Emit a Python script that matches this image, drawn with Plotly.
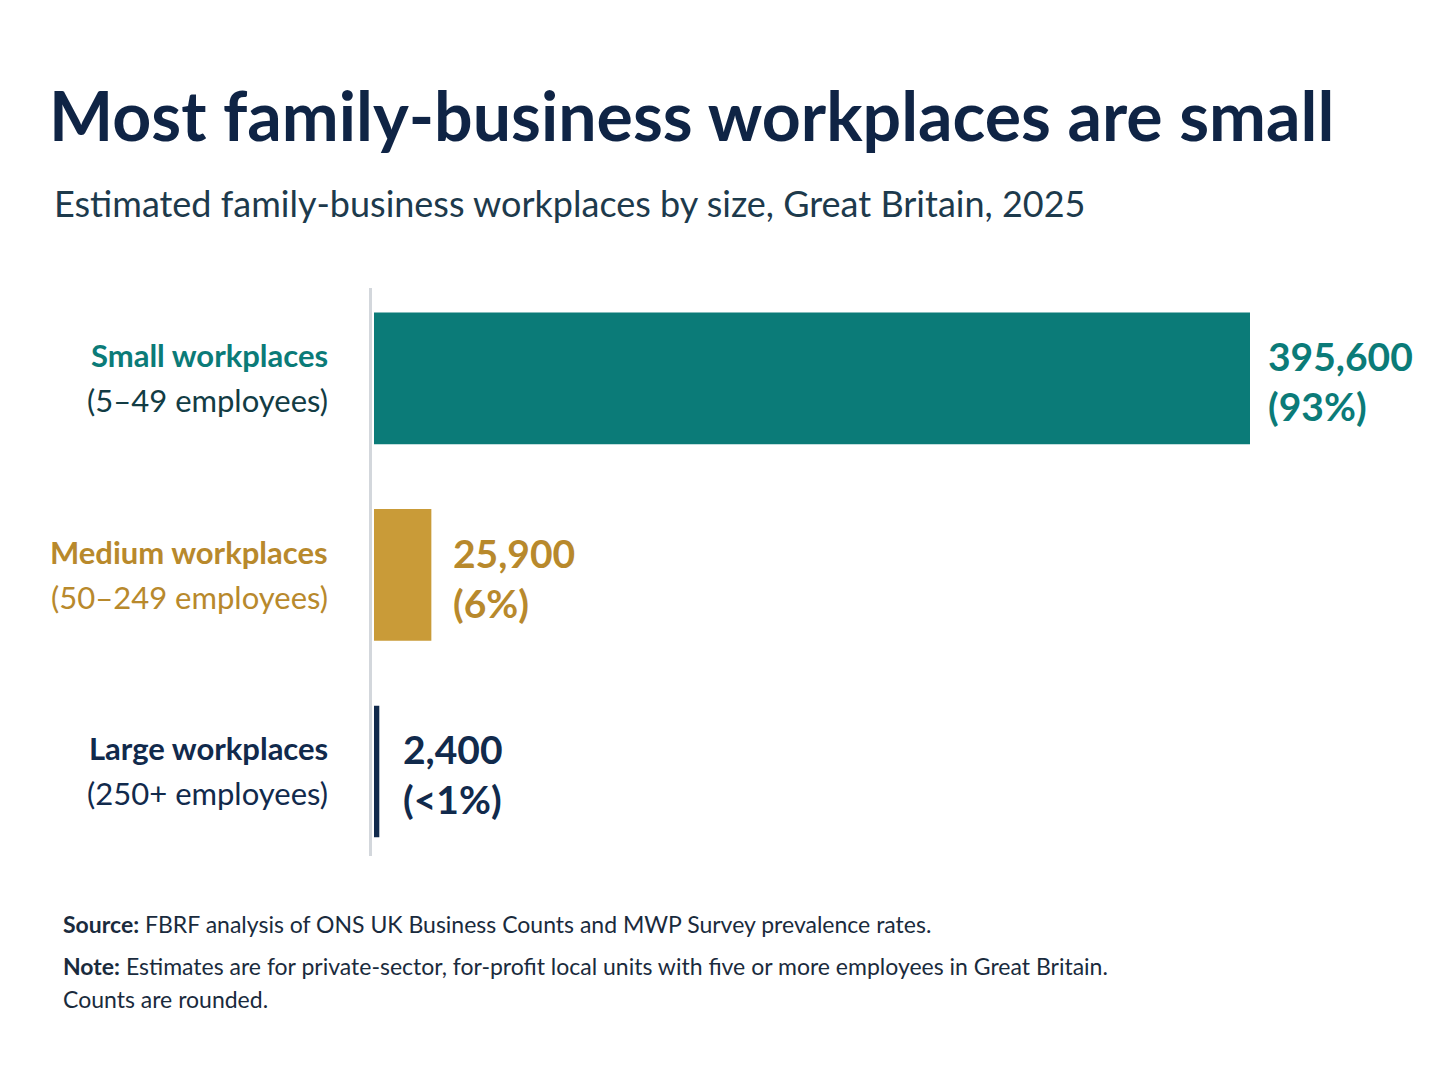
import plotly.graph_objects as go

# data
categories = ["Small workplaces", "Medium workplaces", "Large workplaces"]
size_bands = ["(5–49 employees)", "(50–249 employees)", "(250+ employees)"]
counts = [395600, 25900, 2400]
shares = ["(93%)", "(6%)", "(<1%)"]

bar_colors = ["#0b7b78", "#c99b38", "#112a4c"]
label_colors = ["#0b7b78", "#b8892c", "#112a4c"]
band_colors = ["#123c44", "#b8892c", "#112a4c"]

W, H = 1448, 1086
OFF = 8  # page body margin
L, R, T, B = 372 - OFF, 8, 288 - OFF, 230 + OFF
FONT = "Lato"

fig = go.Figure()

fig.add_trace(go.Bar(
    y=categories,
    x=counts,
    orientation="h",
    marker=dict(color=bar_colors, line=dict(width=0)),
    width=0.67,
    hoverinfo="skip",
))

plot_w = W - L - R
plot_h = H - T - B


def px_x(x):
    return (x - OFF - L) / plot_w


def px_y(y):
    return (H - B - (y - OFF)) / plot_h


annotations = []

# category labels on the left
for i, (cat, band) in enumerate(zip(categories, size_bands)):
    annotations.append(dict(
        x=0, xref="x domain", y=cat, yref="y", xanchor="right", yanchor="middle",
        xshift=-42, yshift=23, text=f"<b>{cat}</b>", showarrow=False,
        font=dict(family=FONT, size=31, color=label_colors[i]),
    ))
    annotations.append(dict(
        x=0, xref="x domain", y=cat, yref="y", xanchor="right", yanchor="middle",
        xshift=-42, yshift=-22, text=band, showarrow=False,
        font=dict(family=FONT, size=31, color=band_colors[i]),
    ))

# value labels right of the bars
for i, (cat, v, s) in enumerate(zip(categories, counts, shares)):
    shift = [16, 20, 22][i]
    annotations.append(dict(
        x=v, xref="x", y=cat, yref="y", xanchor="left", yanchor="middle",
        xshift=shift, yshift=22, text=f"<b>{v:,}</b>", showarrow=False,
        font=dict(family=FONT, size=39, color=label_colors[i]),
    ))
    annotations.append(dict(
        x=v, xref="x", y=cat, yref="y", xanchor="left", yanchor="middle",
        xshift=shift, yshift=-28, text=f"<b>{s}</b>", showarrow=False,
        font=dict(family=FONT, size=39, color=label_colors[i]),
    ))

# title, subtitle, footnotes
annotations += [
    dict(x=px_x(47), y=px_y(114), xref="paper", yref="paper", xanchor="left", yanchor="middle",
         text="<b>Most family-business workplaces are small</b>", showarrow=False,
         font=dict(family=FONT, size=68, color="#0f2445")),
    dict(x=px_x(52), y=px_y(203), xref="paper", yref="paper", xanchor="left", yanchor="middle",
         text="Estimated family-business workplaces by size, Great Britain, 2025", showarrow=False,
         font=dict(family=FONT, size=36, color="#1d3a4c")),
    dict(x=px_x(61), y=px_y(924), xref="paper", yref="paper", xanchor="left", yanchor="middle",
         text="<b>Source:</b> FBRF analysis of ONS UK Business Counts and MWP Survey prevalence rates.",
         showarrow=False, font=dict(family=FONT, size=23, color="#1a2b3d")),
    dict(x=px_x(61), y=px_y(966), xref="paper", yref="paper", xanchor="left", yanchor="middle",
         text="<b>Note:</b> Estimates are for private-sector, for-profit local units with five or more employees in Great Britain.",
         showarrow=False, font=dict(family=FONT, size=23, color="#1a2b3d")),
    dict(x=px_x(61), y=px_y(999), xref="paper", yref="paper", xanchor="left", yanchor="middle",
         text="Counts are rounded.",
         showarrow=False, font=dict(family=FONT, size=23, color="#1a2b3d")),
]

px_per_unit = 876 / 395600
fig.update_layout(
    width=W, height=H,
    margin=dict(l=L, r=R, t=T, b=B),
    paper_bgcolor="white", plot_bgcolor="white",
    showlegend=False,
    annotations=annotations,
    xaxis=dict(range=[-2 / px_per_unit, (plot_w - 2) / px_per_unit],
               showgrid=False, zeroline=False, showticklabels=False, showline=False),
    yaxis=dict(range=[2.43, -0.46], showgrid=False, zeroline=False, showticklabels=False,
               showline=True, linecolor="#d3d7dc", linewidth=3, ticks=""),
)

fig.write_html("out.html")
